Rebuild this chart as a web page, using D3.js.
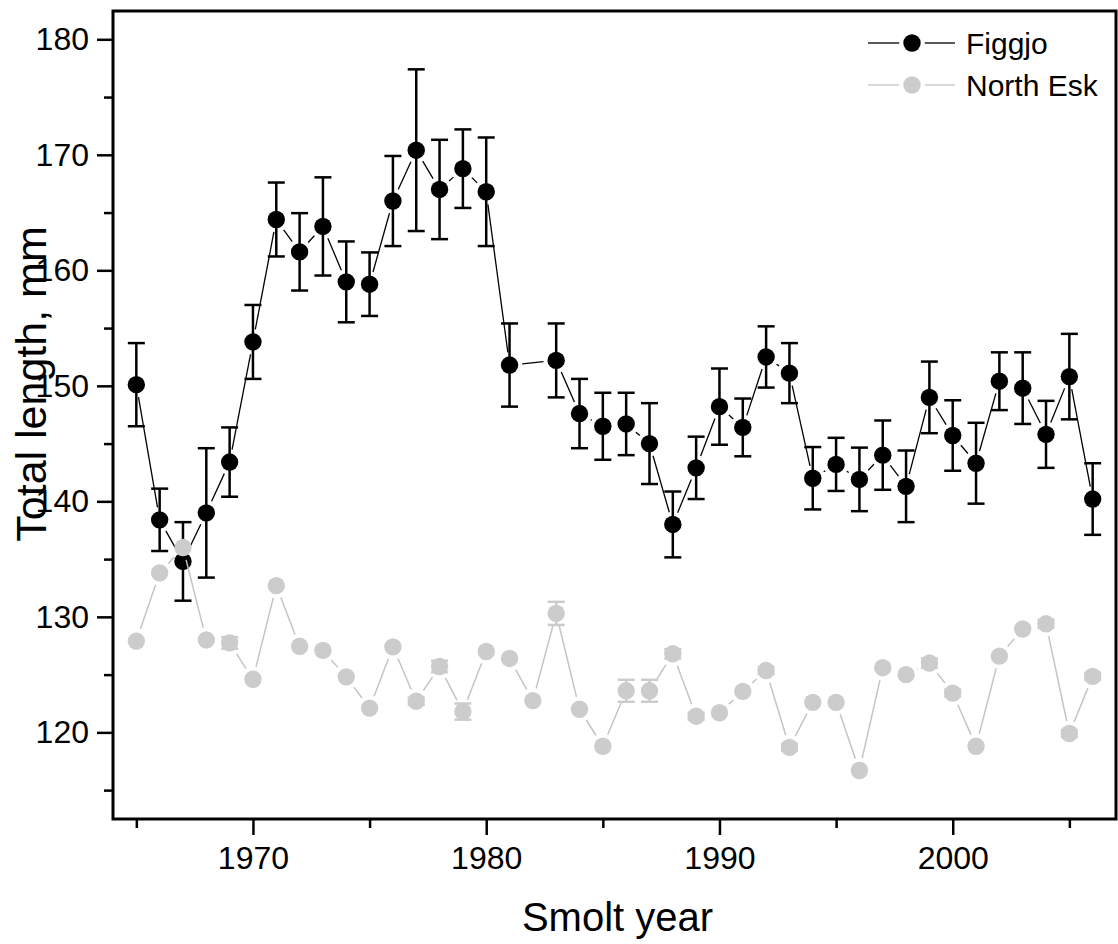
<!DOCTYPE html>
<html>
<head>
<meta charset="utf-8">
<script src="https://cdn.jsdelivr.net/npm/d3@7"></script>
<style>
  body { margin: 0; background: #fff; }
  text { font-family: "Liberation Sans", Arial, sans-serif; fill: #000; }
</style>
</head>
<body>
<div id="chart"></div>
<script>
// data
var figgjoYears = [1965,1966,1967,1968,1969,1970,1971,1972,1973,1974,1975,1976,1977,1978,1979,1980,1981,
  1983,1984,1985,1986,1987,1988,1989,1990,1991,1992,1993,1994,1995,1996,1997,1998,1999,2000,2001,2002,2003,2004,2005,2006];
var figgjoMean = [150.1,138.4,134.8,139.0,143.4,153.8,164.4,161.6,163.8,159.0,158.8,166.0,170.4,167.0,168.8,166.8,151.8,
  152.2,147.6,146.5,146.7,145.0,138.0,142.9,148.2,146.4,152.5,151.1,142.0,143.2,141.9,144.0,141.3,149.0,145.7,143.3,150.4,149.8,145.8,150.8,140.2];
var figgjoErr = [3.6,2.7,3.4,5.6,3.0,3.2,3.2,3.35,4.25,3.5,2.75,3.9,7.0,4.3,3.4,4.7,3.6,
  3.2,3.0,2.9,2.7,3.5,2.85,2.7,3.3,2.5,2.65,2.6,2.7,2.3,2.75,3.0,3.1,3.1,3.05,3.5,2.5,3.1,2.9,3.7,3.1];

var eskYears = d3.range(1965, 2007);
var eskMean = [127.9,133.8,136.0,128.0,127.75,124.6,132.7,127.45,127.1,124.8,122.1,127.4,122.7,125.7,121.8,127.0,126.4,
  122.75,130.3,122.0,118.8,123.6,123.6,126.8,121.4,121.7,123.55,125.35,118.7,122.6,122.6,116.7,125.6,125.0,126.0,123.4,118.8,126.6,128.95,129.4,119.9,124.85];
var eskErr = [0,0,0,0,0.5,0,0,0,0,0,0,0,0.3,0.5,0.7,0,0,
  0,1.0,0,0,0.95,0.95,0.4,0.3,0,0,0.3,0.3,0,0,0,0,0,0.4,0.3,0,0,0,0.35,0.3,0.3];

var yMajor = [120,130,140,150,160,170,180];
var yMinor = [115,125,135,145,155,165,175];
var xMajor = [1970,1980,1990,2000];
var xMinor = [1965,1975,1985,1995,2005];

var svgWidth = 1118, svgHeight = 944;
var margin = {top: 11, right: 2, bottom: 125, left: 113};
var width = svgWidth - margin.left - margin.right;
var height = svgHeight - margin.top - margin.bottom;

var svg = d3.select("#chart").append("svg")
  .attr("width", svgWidth).attr("height", svgHeight);
var g = svg.append("g").attr("transform", `translate(${margin.left},${margin.top})`);

var x = d3.scaleLinear().domain([1964, 2007]).range([0, width]);
var y = d3.scaleLinear().domain([112.5, 182.45]).range([height, 0]);

// axes: major with labels, minor without
function styleAxis(sel) {
  sel.select(".domain").remove();
  sel.selectAll("line").attr("stroke", "#000").attr("stroke-width", 2.5);
  sel.selectAll("text").style("font-size", "32px").attr("fill", "#000");
}
g.append("g").call(d3.axisLeft(y).tickValues(yMajor).tickSize(16).tickPadding(8).tickFormat(d3.format("d")))
  .call(styleAxis);
g.append("g").call(d3.axisLeft(y).tickValues(yMinor).tickSize(9).tickFormat(""))
  .call(styleAxis);
g.append("g").attr("transform", `translate(0,${height})`)
  .call(d3.axisBottom(x).tickValues(xMajor).tickSize(16).tickPadding(11).tickFormat(d3.format("d")))
  .call(styleAxis);
g.append("g").attr("transform", `translate(0,${height})`)
  .call(d3.axisBottom(x).tickValues(xMinor).tickSize(9).tickFormat(""))
  .call(styleAxis);

g.append("rect").attr("width", width).attr("height", height)
  .attr("fill", "none").attr("stroke", "#000").attr("stroke-width", 3);

// axis titles
svg.append("text").attr("x", margin.left + width / 2 + 3).attr("y", 931)
  .attr("text-anchor", "middle").style("font-size", "40px").text("Smolt year");
svg.append("text").attr("transform", "translate(46,384) rotate(-90)")
  .attr("text-anchor", "middle").style("font-size", "43px").text("Total length, mm");

var r = 8.7, gap = 4;

// line between symbols, stopping short of each marker
function segments(pts) {
  var segs = [];
  for (var i = 1; i < pts.length; i++) {
    var p1 = pts[i - 1], p2 = pts[i];
    var dx = p2[0] - p1[0], dy = p2[1] - p1[1];
    var len = Math.sqrt(dx * dx + dy * dy);
    var cut = r + gap;
    if (len <= 2 * cut) continue;
    var ux = dx / len, uy = dy / len;
    segs.push([p1[0] + ux * cut, p1[1] + uy * cut, p2[0] - ux * cut, p2[1] - uy * cut]);
  }
  return segs;
}

function drawSeries(years, mean, err, color, lineColor, lineWidth) {
  var pts = years.map((yr, i) => [x(yr), y(mean[i])]);
  var grp = g.append("g");
  grp.selectAll("line.seg").data(segments(pts)).enter().append("line")
    .attr("x1", d => d[0]).attr("y1", d => d[1]).attr("x2", d => d[2]).attr("y2", d => d[3])
    .attr("stroke", lineColor).attr("stroke-width", lineWidth);
  var idx = d3.range(years.length).filter(i => err[i] > 0);
  var eb = grp.selectAll("g.err").data(idx).enter().append("g")
    .attr("stroke", color).attr("stroke-width", 2.5);
  eb.append("line").attr("x1", i => x(years[i])).attr("x2", i => x(years[i]))
    .attr("y1", i => y(mean[i] - err[i])).attr("y2", i => y(mean[i] + err[i]));
  eb.append("line").attr("x1", i => x(years[i]) - 8.5).attr("x2", i => x(years[i]) + 8.5)
    .attr("y1", i => y(mean[i] + err[i])).attr("y2", i => y(mean[i] + err[i]));
  eb.append("line").attr("x1", i => x(years[i]) - 8.5).attr("x2", i => x(years[i]) + 8.5)
    .attr("y1", i => y(mean[i] - err[i])).attr("y2", i => y(mean[i] - err[i]));
  grp.selectAll("circle").data(pts).enter().append("circle")
    .attr("cx", d => d[0]).attr("cy", d => d[1]).attr("r", r).attr("fill", color);
}

drawSeries(figgjoYears, figgjoMean, figgjoErr, "#000", "#000", 1.3);
drawSeries(eskYears, eskMean, eskErr, "#cccccc", "#c4c4c4", 1.5);

// legend
var legend = [
  {name: "Figgjo", color: "#000", lineColor: "#000", y: 43},
  {name: "North Esk", color: "#cccccc", lineColor: "#c4c4c4", y: 85}
];
var lg = svg.selectAll("g.legend").data(legend).enter().append("g")
  .attr("transform", d => `translate(912,${d.y})`);
lg.append("line").attr("x1", -44).attr("x2", -r - gap).attr("y1", 0).attr("y2", 0)
  .attr("stroke", d => d.lineColor).attr("stroke-width", 1.3);
lg.append("line").attr("x1", r + gap).attr("x2", 43).attr("y1", 0).attr("y2", 0)
  .attr("stroke", d => d.lineColor).attr("stroke-width", 1.3);
lg.append("circle").attr("r", r).attr("fill", d => d.color);
lg.append("text").attr("x", 54).attr("y", 11).style("font-size", "30px").text(d => d.name);
</script>
</body>
</html>
